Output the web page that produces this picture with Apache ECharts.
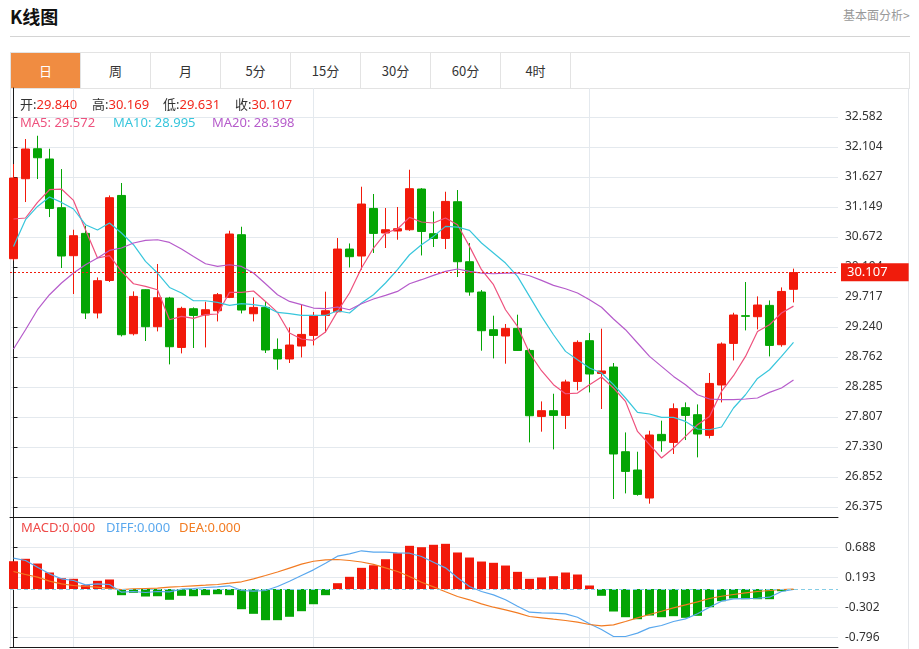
<!DOCTYPE html>
<html><head><meta charset="utf-8">
<script src="https://cdn.jsdelivr.net/npm/echarts@6.0.0/dist/echarts.min.js"></script>
<style>
html,body{margin:0;padding:0;background:#fff;width:919px;height:649px;overflow:hidden;font-family:"Noto Sans","Noto Sans CJK SC",sans-serif;}
#title{position:absolute;left:10px;top:3px;font-size:18px;font-weight:bold;color:#111;font-family:"Noto Sans CJK SC",sans-serif;}
#more{position:absolute;left:843px;top:6px;font-size:12px;color:#999;font-family:"Noto Sans CJK SC",sans-serif;}
#hr{position:absolute;left:10px;top:36px;width:900px;height:1px;background:#d4d4d4;}
#tabs{position:absolute;left:10px;top:52px;width:900px;height:37px;box-sizing:border-box;border:1px solid #e3e3e3;}
.tab{float:left;width:69px;height:35px;line-height:35px;text-align:center;font-size:13px;color:#333;border-right:1px solid #e3e3e3;font-family:"Noto Sans CJK SC",sans-serif;}
.tab.on{background:#f08c41;color:#fff;}
#frame{position:absolute;left:10px;top:88px;width:899px;height:561px;box-sizing:border-box;border-left:1px solid #e3e6ea;border-right:1px solid #e3e6ea;}
#chart{position:absolute;left:0;top:0;width:919px;height:649px;}
</style></head>
<body>
<div id="title">K线图</div>
<div id="more">基本面分析&gt;</div>
<div id="hr"></div>
<div id="tabs"></div>
<div id="frame"></div>
<div id="chart"></div>
<script>
const tabLabels = ['日','周','月','5分','15分','30分','60分','4时'];

const opens  = [30.327,31.600,32.077,31.914,31.139,30.375,30.730,29.463,29.981,31.334,
29.133,29.833,29.245,29.701,28.915,29.531,29.431,29.499,29.711,30.709,
29.451,29.552,28.883,28.731,28.937,29.106,29.424,29.483,30.481,30.370,
31.127,30.736,30.768,30.788,31.436,30.725,30.650,31.234,30.279,29.797,
29.197,29.097,29.218,28.867,27.817,27.908,27.833,28.374,29.022,28.501,
28.603,27.255,26.964,26.518,27.531,27.403,27.956,27.844,27.515,28.317,
28.979,29.420,29.404,29.584,28.958,29.840];
const highs  = [31.834,32.232,32.284,32.077,31.754,30.788,30.852,30.029,31.334,31.532,
29.807,29.840,30.243,29.720,29.563,29.552,29.643,29.781,30.772,30.836,
29.711,29.643,29.058,29.233,29.600,29.479,29.802,30.656,30.570,31.473,
31.357,31.134,31.150,31.743,31.450,31.080,31.393,31.420,30.577,29.829,
29.420,29.288,29.436,28.895,28.056,28.178,28.401,29.027,29.144,29.213,
28.667,27.562,27.255,27.589,27.749,28.024,28.040,28.008,28.508,28.995,
29.467,29.956,29.727,29.663,29.870,30.169];
const lows   = [30.300,31.229,31.595,30.990,30.179,29.765,29.367,29.377,29.956,29.090,
29.106,29.017,29.170,28.645,28.820,28.906,28.915,29.329,29.700,29.456,
29.329,28.826,28.560,28.667,28.756,28.947,29.154,29.470,30.188,30.152,
30.418,30.497,30.629,30.770,30.379,30.513,30.481,30.036,29.738,28.863,
28.740,28.656,28.860,27.403,27.574,27.292,27.617,28.231,28.199,27.935,
26.502,26.592,26.555,26.428,27.255,27.219,27.441,27.165,27.467,28.040,
28.708,29.186,29.202,28.772,28.926,29.631];
const closes = [31.611,32.073,31.934,31.127,30.370,30.693,29.463,29.977,31.298,29.117,
29.727,29.245,29.706,28.926,29.536,29.424,29.515,29.754,30.720,29.510,
29.552,28.874,28.731,28.953,29.122,29.424,29.499,30.481,30.359,31.197,
30.730,30.788,30.804,31.441,30.761,30.650,31.239,30.279,29.797,29.181,
29.106,29.218,28.867,27.828,27.908,27.833,28.365,28.995,28.492,28.540,
27.219,26.942,26.576,27.521,27.430,27.940,27.833,27.537,28.342,28.969,
29.431,29.410,29.590,28.947,29.806,30.107];

const ma5  = [30.959,30.975,31.223,31.425,31.436,31.255,30.788,30.338,30.375,30.125,
29.929,29.886,29.833,29.356,29.409,29.377,29.436,29.447,29.791,29.791,
29.813,29.647,29.472,29.144,29.049,29.027,29.160,29.488,29.781,30.179,
30.497,30.736,30.800,30.984,30.911,30.895,30.975,30.868,30.523,30.152,
29.913,29.515,29.249,28.826,28.544,28.322,28.178,28.189,28.322,28.444,
28.269,28.056,27.578,27.367,27.155,27.314,27.499,27.685,27.817,28.215,
28.465,28.772,29.170,29.276,29.463,29.572];
const ma10 = [30.523,30.948,31.159,31.309,31.223,31.118,30.868,30.784,30.895,30.736,
30.550,30.284,30.099,29.870,29.781,29.658,29.658,29.631,29.584,29.611,
29.595,29.568,29.472,29.452,29.424,29.424,29.424,29.499,29.463,29.622,
29.754,29.940,30.152,30.390,30.550,30.682,30.841,30.831,30.777,30.577,
30.418,30.258,30.045,29.727,29.409,29.117,28.852,28.719,28.587,28.508,
28.322,28.110,27.881,27.855,27.801,27.801,27.737,27.617,27.605,27.648,
27.951,28.162,28.422,28.560,28.772,28.995];
const ma20 = [28.890,29.197,29.515,29.754,29.940,30.099,30.231,30.338,30.459,30.497,
30.577,30.618,30.629,30.586,30.481,30.363,30.247,30.204,30.231,30.204,
30.099,29.929,29.754,29.647,29.595,29.542,29.531,29.558,29.515,29.611,
29.685,29.743,29.806,29.929,29.993,30.061,30.125,30.163,30.125,30.099,
30.088,30.099,30.099,30.056,29.982,29.902,29.849,29.781,29.674,29.555,
29.367,29.197,28.985,28.772,28.613,28.454,28.322,28.162,28.094,28.083,
28.083,28.094,28.110,28.199,28.269,28.398];

const macdHist = [0.458,0.498,0.420,0.272,0.178,0.168,0.063,0.135,0.157,-0.102,
-0.063,-0.124,-0.119,-0.178,-0.112,-0.119,-0.102,-0.086,-0.102,-0.333,
-0.409,-0.514,-0.514,-0.458,-0.366,-0.251,-0.102,0.096,0.201,0.349,
0.392,0.491,0.590,0.712,0.689,0.729,0.745,0.602,0.519,0.453,
0.432,0.387,0.283,0.168,0.190,0.211,0.272,0.239,0.058,-0.112,
-0.371,-0.465,-0.498,-0.437,-0.465,-0.448,-0.475,-0.442,-0.300,-0.201,
-0.157,-0.168,-0.168,-0.168,-0.036,-0.013];
const diffVals = [0.508,0.470,0.360,0.250,0.168,0.140,0.069,0.086,0.074,-0.053,
-0.041,-0.058,-0.041,-0.046,-0.003,0.008,0.025,0.036,0.053,-0.025,
-0.036,-0.025,0.041,0.129,0.223,0.316,0.425,0.541,0.580,0.630,
0.607,0.607,0.597,0.590,0.536,0.442,0.349,0.185,0.041,-0.041,
-0.096,-0.178,-0.283,-0.382,-0.393,-0.398,-0.409,-0.465,-0.574,-0.668,
-0.783,-0.783,-0.728,-0.640,-0.602,-0.536,-0.492,-0.409,-0.300,-0.201,
-0.162,-0.157,-0.152,-0.135,-0.041,-0.008];
const deaVals = [0.288,0.239,0.195,0.129,0.086,0.058,0.041,0.030,0.008,-0.008,
0.003,0.008,0.013,0.030,0.041,0.053,0.063,0.074,0.096,0.119,
0.168,0.223,0.280,0.345,0.410,0.458,0.481,0.486,0.470,0.445,
0.405,0.349,0.288,0.206,0.112,0.035,-0.045,-0.124,-0.178,-0.244,
-0.300,-0.343,-0.393,-0.453,-0.475,-0.498,-0.519,-0.547,-0.585,-0.607,
-0.590,-0.536,-0.475,-0.420,-0.366,-0.310,-0.261,-0.211,-0.157,-0.119,
-0.091,-0.063,-0.041,-0.025,-0.008,-0.003];

const priceTicks = [26.375,26.852,27.330,27.807,28.285,28.762,29.240,29.717,30.194,30.672,31.149,31.627,32.104,32.582];
const macdTicks = [-0.796,-0.302,0.193,0.688];
const monthMarks = [5,25,48];
const macdLegend = ['0.000','0.000','0.000'];

document.getElementById('tabs').innerHTML = tabLabels.map((t,i)=>'<div class="tab'+(i===0?' on':'')+'">'+t+'</div>').join('');

const UP = '#f2190a', DOWN = '#04a504', RED_TXT = '#f2281e';
const C_MA5 = '#ee527e', C_MA10 = '#38c6dc', C_MA20 = '#b65ccb';
const C_MACD = '#ef4a48', C_DIFF = '#5aa8ee', C_DEA = '#f27b22';
const GRID_C = '#e4e9ee';
const FONT = '"Noto Sans","Noto Sans CJK SC",sans-serif';
const X_MIN = -0.29167, X_MAX = 68.70833;
const last = opens.length - 1;

function xAx(gi){
  return {type:'value', gridIndex:gi, min:X_MIN, max:X_MAX,
    axisLine:{show:true, onZero:false, lineStyle:{color:'#1a1a1a', width:1}},
    axisTick:{show:false, customValues:monthMarks},
    axisLabel:{show:false, customValues:monthMarks},
    splitLine:{show:true, lineStyle:{color:GRID_C, width:1}}};
}
function yAx(gi, mn, mx, ticks){
  return {type:'value', gridIndex:gi, position:'right', min:mn, max:mx,
    axisLine:{show:true, lineStyle:{color:'#1a1a1a', width:1}},
    axisTick:{show:true, length:4, customValues:ticks, lineStyle:{color:'#1a1a1a'}},
    axisLabel:{customValues:ticks, formatter:v=>Number(v).toFixed(3), color:'#333', fontSize:12, fontFamily:FONT, margin:7},
    splitLine:{show:true, lineStyle:{color:GRID_C, width:1}}};
}
function line(data, color, xi, yi){
  return {type:'line', xAxisIndex:xi, yAxisIndex:yi, data:data.map((v,i)=>[i,v]),
    showSymbol:false, symbol:'none', smooth:false, lineStyle:{color:color, width:1.2}, z:3, silent:true};
}
function txt(x, y, parts){
  let s = '', rich = {};
  parts.forEach((p,k)=>{ s += '{p'+k+'|'+p[0]+'}'; rich['p'+k] = {fill:p[1], fontSize:13, fontFamily:FONT}; });
  return {type:'text', x:x, y:y, z:100, silent:true, style:{text:s, rich:rich, fontSize:13, fontFamily:FONT, verticalAlign:'middle'}};
}

const chart = echarts.init(document.getElementById('chart'));
chart.setOption({
  animation:false,
  grid:[{left:10, top:88, width:828, height:429},{left:10, top:517, width:828, height:130}],
  xAxis:[xAx(0), xAx(1)],
  yAxis:[yAx(0, 26.216, 33.044, priceTicks), yAx(1, -0.956, 1.187, macdTicks)],
  graphic:[
    txt(20,105,[['开:','#333'],[opens[last].toFixed(3),RED_TXT]]),
    txt(92,105,[['高:','#333'],[highs[last].toFixed(3),RED_TXT]]),
    txt(163,105,[['低:','#333'],[lows[last].toFixed(3),RED_TXT]]),
    txt(235,105,[['收:','#333'],[closes[last].toFixed(3),RED_TXT]]),
    txt(20,123,[['MA5: '+ma5[last].toFixed(3),C_MA5]]),
    txt(113,123,[['MA10: '+ma10[last].toFixed(3),C_MA10]]),
    txt(212,123,[['MA20: '+ma20[last].toFixed(3),C_MA20]]),
    txt(21,528,[['MACD:'+macdLegend[0],C_MACD]]),
    txt(106,528,[['DIFF:'+macdLegend[1],C_DIFF]]),
    txt(179,528,[['DEA:'+macdLegend[2],C_DEA]])
  ],
  series:[
    {type:'candlestick', xAxisIndex:0, yAxisIndex:0, barWidth:8, clip:true, silent:true,
     data:opens.map((o,i)=>[i,o,closes[i],lows[i],highs[i]]),
     itemStyle:{color:UP, color0:DOWN, borderColor:UP, borderColor0:DOWN, borderWidth:1},
     markLine:{silent:true, symbol:'none', animation:false,
       lineStyle:{color:'#f01c0c', type:[2,2], width:1},
       label:{show:true, position:'end', distance:3, formatter:()=>closes[last].toFixed(3),
         color:'#fff', backgroundColor:'#f01c0c', fontSize:13, fontFamily:FONT, padding:[3,21,2,6]},
       data:[{yAxis:closes[last]}]}},
    line(ma5, C_MA5, 0, 0),
    line(ma10, C_MA10, 0, 0),
    line(ma20, C_MA20, 0, 0),
    {type:'bar', xAxisIndex:1, yAxisIndex:1, barWidth:9, silent:true,
     data:macdHist.map((v,i)=>[i,v]),
     itemStyle:{color:p=>p.value[1]>=0?UP:DOWN},
     markLine:{silent:true, symbol:'none', animation:false,
       lineStyle:{color:'#86cde6', type:[4,3], width:1}, label:{show:false},
       data:[{yAxis:0}]}},
    line(diffVals, C_DIFF, 1, 1),
    line(deaVals, C_DEA, 1, 1)
  ]
});
</script>
</body></html>
